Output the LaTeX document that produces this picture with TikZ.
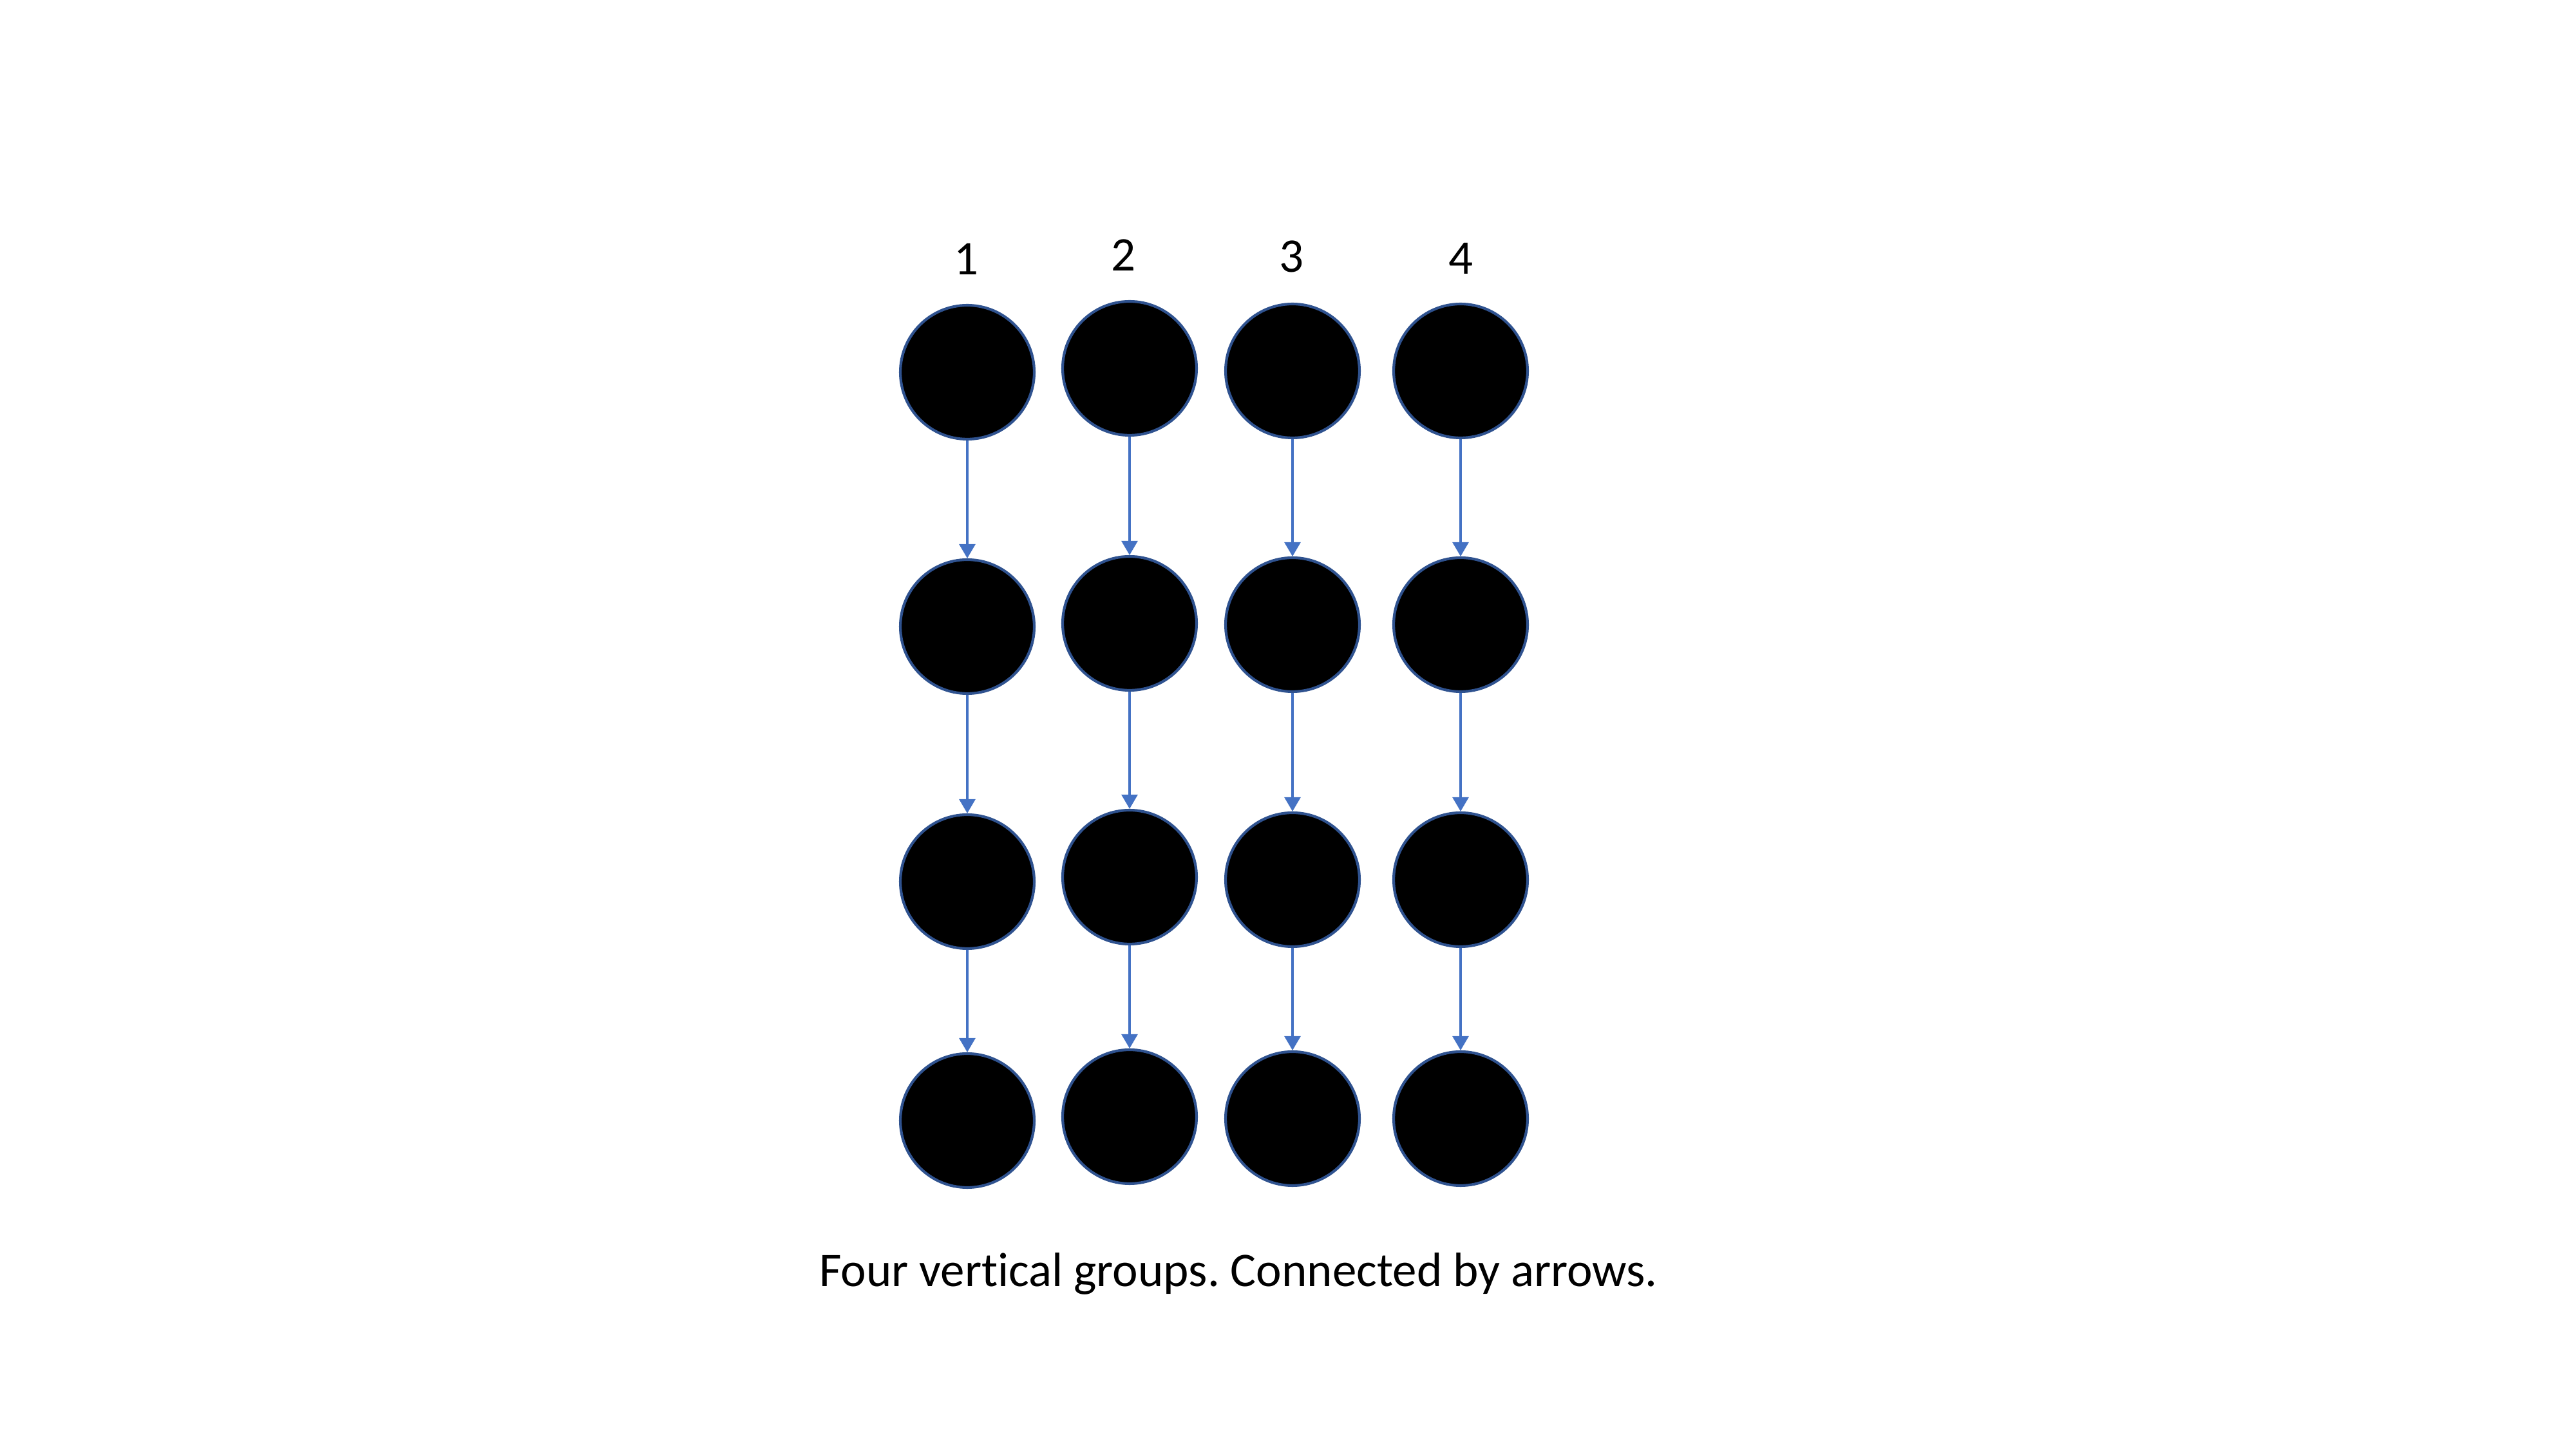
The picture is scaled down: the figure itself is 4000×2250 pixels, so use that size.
\documentclass[tikz,border=0pt]{standalone}
\usepackage{fontspec}
\setmainfont[Ligatures=NoCommon]{Carlito}
\usetikzlibrary{arrows.meta}
\definecolor{ringblue}{HTML}{2F528F}
\definecolor{arrowblue}{HTML}{4472C4}
\frenchspacing
\begin{document}
\begin{tikzpicture}[x=0.24pt,y=-0.24pt,
  dot/.style={circle,fill=black,draw=ringblue,line width=1pt,inner sep=0pt,minimum size=49.9pt},
  link/.style={draw=arrowblue,line width=0.75pt,-{Triangle[length=5.3pt,width=6pt]}},
  lbl/.style={anchor=base,inner sep=0pt,font=\fontsize{18pt}{21.6pt}\selectfont}]
\useasboundingbox[fill=white] (0,0) rectangle (4000,2250);
% column 1
\node[dot] (a1) at (1502,578) {};
\node[dot] (a2) at (1502,973) {};
\node[dot] (a3) at (1502,1369) {};
\node[dot] (a4) at (1502,1740) {};
% column 2
\node[dot] (b1) at (1754,572) {};
\node[dot] (b2) at (1754,968) {};
\node[dot] (b3) at (1754,1362) {};
\node[dot] (b4) at (1754,1734) {};
% column 3
\node[dot] (c1) at (2007,576) {};
\node[dot] (c2) at (2007,970) {};
\node[dot] (c3) at (2007,1366) {};
\node[dot] (c4) at (2007,1737) {};
% column 4
\node[dot] (d1) at (2268,576) {};
\node[dot] (d2) at (2268,970) {};
\node[dot] (d3) at (2268,1366) {};
\node[dot] (d4) at (2268,1737) {};
% labels
\node[lbl] (l1) at (1500,427) {1};
\node[lbl] (l2) at (1744,421) {2};
\node[lbl] (l3) at (2005,423) {3};
\node[lbl] (l4) at (2268,426) {4};
\node[lbl] (cap) at (1923,1998) {Four vertical groups. Connected by arrows.};
% arrows
\foreach \c in {a,b,c,d}{
  \draw[link] (\c1.south) -- (\c2.north);
  \draw[link] (\c2.south) -- (\c3.north);
  \draw[link] (\c3.south) -- (\c4.north);
}
\end{tikzpicture}
\end{document}
